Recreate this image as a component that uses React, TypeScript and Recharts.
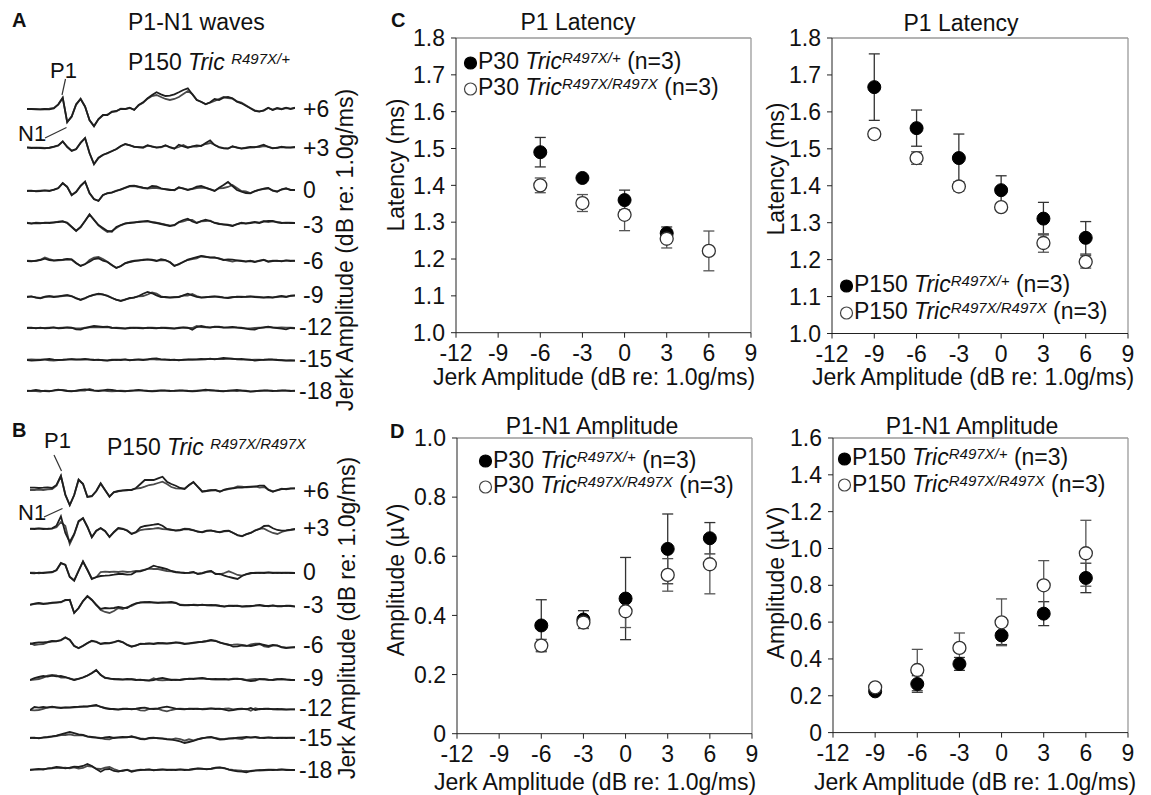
import React from 'react';
import { LineChart, Line, XAxis, YAxis, ScatterChart, Scatter, ErrorBar, ReferenceLine } from 'recharts';

const FONT = '"Liberation Sans", Arial, Helvetica, sans-serif';

// ---------- Waveform traces (amplitude samples, 61 per trace, two overlaid recordings) ----------
// Panel A: P150 Tric R497X/+
const A_P6_1 = [0,0,-0.3,-0.3,0,-0.3,0.7,4.7,11.3,-13,-7.7,4.7,10,2.3,-11,-17.3,-10,-6,-6,-2.7,-2,0,0,1.3,-1,4,6.7,10.7,14,16.7,14.7,13,13.3,14.7,16.7,19,20.7,14.7,9,7.3,4.7,6.7,10,9,11.3,12,10.7,7.3,5.7,3.3,0.7,-2,-2.7,-1.3,1.3,-1,0.7,-0.3,1.3,0,1.3];
const A_P6_2 = [0,0,0,-0.3,0,0.3,1,4.3,11,-13.3,-7.3,4.3,10.3,2.7,-11.3,-17,-10.3,-6.3,-5.7,-3,-2.3,0.3,0,1,-0.7,3.7,6.3,10.3,13,14,12,10,9,10,12,15,18,15,9.3,7,5,6.3,8,10,12,11,10.3,7.7,6.5,3.7,1,-1.3,-2.3,-1.7,1,-0.7,1,0,1,0.3,1];
const A_P3_1 = [0.7,0,0.3,0,-0.3,0.3,1.3,2.7,6.7,1,-2.7,-1,5,10,-5,-16,-10,-7,-5,-3.3,-1,2,4,2.7,1.3,0.7,0.7,2.7,1.3,0.3,1,2.7,0.7,-0.7,3.3,1.7,0.3,1.7,2.7,2,5,7.7,3,1,-0.3,-0.7,1.7,0.3,-0.7,0,1,0.7,2,3.3,1,-0.3,0.3,1,0.7,0.3,1];
const A_P3_2 = [0.3,0.3,0,0.3,0,0,1,2.3,6.3,1.3,-3,-1.3,5.3,9.7,-5.3,-16.3,-9.7,-6.7,-5.3,-3,-1.3,1.7,3.7,3,1,1,0.3,2.3,1.7,0.7,0.7,2.3,1,-0.3,1,3,0.7,1.3,1.5,2.3,4,5,3.3,0.7,0,-0.3,1.3,0.7,-0.3,0.3,0.7,1,1,2,1.3,0,0,1.3,0.3,0.7,0.7];
const A_0_1 = [0,0.3,-0.3,0,0.7,0,1.3,3,8,4,-4,-1,5,9.5,-2,-8,-10,-4,-2.3,-1.7,0,1.7,3.3,5,5.3,4.3,3.3,2.7,5,4.7,2.7,1.7,1,1,3.7,2.3,1,2.3,4.3,5,3.3,1.7,0,3.3,6,9,5,1,-0.7,-2,-2.3,0,1,2.3,3,0.3,-0.7,1.7,2.7,1,1];
const A_0_2 = [0.3,0,0,0.3,0.3,0.3,1,2.7,7.7,4.3,-4.3,-0.7,5.3,9.3,-2.3,-8.3,-9.7,-4.3,-2,-1.3,0.3,1.3,3,4.7,5,4,3,2.3,3,3,2.3,2,1.3,0.7,3.3,2.7,1.3,2,3,3.5,3,2,0.3,2.7,3,4,6,3,0,-0.5,-2,-0.3,1.3,2,2.7,0.7,-0.3,1.3,2.3,1.3,1];
const A_M3_1 = [0,-0.7,0,-0.3,0.3,0,0.7,1,1.7,0,-4,-8,-4,2,8.7,3,-2,-5,-8,-8.7,-4,-2,-0.3,0,0.7,1,1.7,2,0.7,0,-1,-2,-3,-2,1,3,4.3,1.5,0,2,3.3,2,0,-1,-1.3,-2,-3,-1,0,-0.7,0,1,0,1.3,2,2,0.7,0,0.3,0,0];
const A_M3_2 = [0.3,-0.3,0.3,0,0,0.3,0.3,1.3,1.3,0.3,-3.7,-7.7,-4.3,2.3,8.3,3.3,-2.3,-6,-9,-8,-5,-2.3,-0.7,0.3,0.3,1.3,1.3,1.7,1,0.3,-0.7,-1.7,-2.7,-2.3,0.7,1.5,3,3,0.3,1.7,2,2.3,0.3,-0.7,-1.7,-1.7,-2.7,-1.3,0.3,-0.3,0.3,0.7,0.3,2,1,1.7,1,0.3,0,0.3,0];
const A_M6_1 = [0,-0.3,0.3,1,2.3,1,0.3,1,1.3,2,1.7,-2,-5,-3,-0.7,2,2.7,0.3,-1,-4,-7,-5,-2,-1,0,0.7,1,1.7,1,0,1.7,1,-1.3,-5,-3,-1,1.3,2.7,4,5,4.3,3.3,3.7,2.3,1,1.7,1.3,0.7,0,-0.7,0,-1,0.3,1,-0.7,0,0.3,-0.3,0.7,0,0.3];
const A_M6_2 = [0.3,0,0,1.3,3.5,2,0.7,0.7,1,1.7,1.3,-2.3,-4.7,-3.3,1,3.5,4,2,-0.7,-4.3,-6.7,-5.3,-2.3,-0.7,0.3,0.3,1.3,1.3,1.3,0.3,0.7,0.7,-1,-4.7,-3.3,-0.7,1,2,2.7,4.7,4,3.7,3.3,2.7,1.3,0.3,-0.7,0.3,0.3,-0.3,0.3,-0.7,0,1.3,-0.3,0.3,0,0,0.3,0.3,0];
const A_M9_1 = [0,0.7,-0.7,-1.3,0.3,0.7,0,0.7,1.3,1.7,0.7,-1.3,-2.7,-1,1,2,3.3,2.7,1,-1,-2.7,-4,-2.7,-1,-0.7,1,3.3,5,3.7,1.7,0,0,-0.7,-0.3,0,1.7,3.3,1.7,0,-0.7,-0.3,0.3,0.7,0,-0.7,-1,-0.3,0.3,0,0.3,0.7,0,-0.3,-0.7,0,-0.7,0.3,1,0,1.3,1.7];
const A_M9_2 = [0.3,0.3,-0.3,-1,0,1,0.3,0.3,1,2,1,-1,-3,-1.3,0.7,2.3,3,2.3,1.3,-0.7,-3,-3.7,-2.3,-1.3,-0.3,0.7,1,2.5,4.5,3.5,0.7,-0.3,-0.3,0,0.3,1.3,1.5,3,1,-0.3,0,0,0.3,0.3,-0.3,-0.7,0,0,0.3,0,0.3,0.3,0,-0.3,-0.3,-0.3,0,0.7,0.3,1,1.3];
const A_M12_1 = [0,0.3,-0.3,0.3,-0.3,0,0.7,-0.3,0,0.7,0.3,-1.3,-1.7,0,1,2,1.7,1,1.3,0.3,0,-0.3,-0.7,0,0.3,0,-0.3,0.3,0,-0.3,0.3,0,-0.3,-0.7,0,0.7,0.3,-1.7,1,2,1,0.3,1.3,1,0.3,0.7,1,0.3,0,-0.7,-1.3,-1.7,0,0.7,1.3,0.3,0,-0.7,-1.3,0,-0.3];
const A_M12_2 = [0.3,0,0,0,0,0.3,0.3,0,0.3,0.3,0,-0.3,-0.3,0.3,0.7,0.7,1,0.7,1,0,0.3,0,-0.3,0.3,0,0.3,0,0,0.3,0,0,0.3,0,-0.3,0.3,0.3,0,0,2,1,0.7,0.7,1,1.3,0.7,0.3,0.7,0.7,0.3,-0.3,-0.3,0,0.3,0.3,1,0.7,0.3,0.7,0.3,0.3,0];
const A_M15_1 = [0,-0.7,-0.3,0,0.7,1,0.3,0,0.3,0.7,0.7,0.3,0.7,1,0.3,0,0.3,-0.3,-0.7,0,0.3,0,0.7,-0.3,0.3,0.3,0,0.7,1.3,1.7,0.7,0.3,0,0.3,-0.3,0.3,0.7,0.3,0.7,1,0.7,1.3,0.7,1.3,2,1.7,1.3,0.7,1,0.3,0.3,-0.7,0,0.3,0.7,0.3,0,-0.3,-0.7,-0.3,-0.7];
const A_M15_2 = [0.3,0.7,0.3,0.3,0.3,-0.3,-0.7,0,0,0.3,1,0.7,0.3,0.7,0.7,0.3,0,0,-0.3,0.3,0,0.3,0.3,0,0,0.7,0.3,0.3,1,0.3,0.3,0.7,0.3,0,0,0,0.3,0.7,0.3,0.7,1,1,1,1,1,1.3,1,1,0.7,0.7,0,0.3,0.3,0,0.3,0.7,0.3,0,-0.3,-0.3,-0.3];
const A_M18_1 = [0,0.3,1,0.3,0,-0.3,0.7,1.3,0.7,0,-0.3,0.3,1,1.7,1,0.3,0,0.7,1.3,1,0.3,0,-0.3,0.3,0.7,1,0.3,0,-0.3,0,0.7,0.3,0,0.3,0.7,0.3,0,-0.3,0,0.7,1.3,0.7,0.3,0,-0.3,0.3,0.7,1,0.3,0,-0.7,-0.3,0.3,0.7,0.3,0,0.3,0.7,0.3,0,0.3];
const A_M18_2 = [0.3,0,0,-0.7,0.3,0,0.3,1,1,0.3,0,0,0.7,0.3,2,0.7,0.3,0.3,0,-0.3,0,0.3,0,0,0.3,0.7,0.7,0.3,0,0.3,0.3,0.7,0.3,0,0.3,0.7,0.3,0,0.3,0.3,0.3,1,0.7,0.3,0,0,0.3,0,0.7,0.3,-0.3,0,0,0.3,0.7,0.3,0,0.3,0.7,0.3,0];

// Panel B: P150 Tric R497X/R497X
const B_P6_1 = [1.3,1.3,1,1.3,1.7,1,4,13.3,-6,-16,-6,9.5,5,-8,-7,-2,5.7,-1,-7.7,-3,-2,-1.3,-1,-1,1,5,9,9,9,10.7,12.3,7.3,5,3.3,1,0,4,7,2,-2.7,-2,-1.3,-1,-2.7,-0.7,0.3,0.7,1.3,1.3,2,2.3,2.3,3.3,3.3,-1,-2.7,-1,0,0,0.7,0.7];
const B_P6_2 = [-1,-1,-0.7,-1,-0.3,0,3.3,12.7,-5.3,-16.3,-6.3,9,5.3,-7.7,-7.3,-2.3,5.3,-1.3,-7.3,-3.3,-2.3,-1.7,-1.3,-0.7,0.3,1,2.3,4,4.7,6,7.3,5,2,0.7,0.3,0.3,3.7,6.7,2.3,-2.3,-1.7,-1,-1.3,-2.3,-1,0,1,2.7,2.3,1.7,2,2.7,1.3,2,-0.7,-2.3,-1.3,0.3,-0.3,0.3,0.7];
const B_P3_1 = [0.3,0,0.7,0,0.3,0.7,3.3,12.7,-4,-13,-5,8,11,2,-8.3,-1.7,1,-2,-8,-3,1,0,-1.7,-5,-3,1.7,3,3.7,4.3,5,3.3,0,-0.7,-1.7,-1,0,-0.3,-1.3,-2.5,-3.3,-1.7,-1.7,-2.3,-3.3,-2,-1.7,-4,-6,-7.3,-5,-4,-1.5,0,3,3.3,0.7,-1,-1.7,-1.3,-0.7,0];
const B_P3_2 = [0,0.3,0.3,0.3,0,0.3,1.7,7,3,-15,-5.7,7.3,10.7,2.3,-8,-2,0.7,-2.3,-7.7,-3.3,0.7,0.3,-1.3,-4.7,-3.3,-1,-0.3,0,0.3,1,0,-0.3,-1,-1.3,-1.3,0.3,0,-1,-2.7,-3,-2,-1.3,-2.7,-3,-2.3,-2,-3.7,-6.3,-7,-5.3,-3.7,-1.3,0.3,0.3,-2,-4,-5,-3,-1.7,-1,-0.3];
const B_0_1 = [0,-0.3,0.3,0,0.7,1,3,10,8,-4,-7.7,2,11.7,3,-6,-4,-3,-2.7,-2.3,-1.7,-1,-1,-1.7,-1.3,1.3,1.7,3,5,7.3,6,5,4,2,1,0.3,0,0.3,1,-1,-0.3,1.3,2,-1,-1,-2.7,-4,-5,-6,-3,-1,0,0,0.3,0,0.7,0,0.3,0,0.3,0,0];
const B_0_2 = [0.3,0.3,-0.3,0.3,0.3,0.7,2.7,9.7,8.3,-3.7,-7.3,2.3,11.3,3.3,-5.7,-4.3,1,1.3,1,1.3,1,1.7,1,1.3,2,2.3,3.3,4.3,4,4,3,2,1.7,0.7,0.7,0.3,0,0.7,-0.7,0,1,1.7,-0.7,-1.3,0,1.7,0,-2,-2.7,-1.3,-0.3,0.3,0,0.3,0.3,0.3,0,0.3,0,0.3,0];
const B_M3_1 = [0,1.3,2,1,1.7,2.3,2.3,3,5,5,-8,-3,4,9,5,0,-4,-3,-3.3,-3,-2,-2.7,-3,0,1.7,2.7,2.7,3,2.3,2.3,2.3,2.7,3,2,0,-0.3,0,0,-0.3,0.3,-0.3,0,-0.3,-1,-1.7,-0.7,-1,-0.7,-1.7,-1.3,-1,-0.7,0,-1,-1,-0.3,-1.3,-1.3,-0.7,-1,-1.7];
const B_M3_2 = [0.3,1,1.7,1.3,1.3,2,2.7,2.7,4.7,5.3,-7.7,-3.3,3.7,8.7,5.3,0.3,-5,-7,-8,-6,-3,-4,-2,-1,1.3,2.3,3,2.7,2.7,2,2.7,2.3,2.7,2.3,0.3,0,-0.3,0.3,0,0,0,-0.3,0,-0.7,-1.3,-1,-0.7,-1,-1.3,-1,-1.3,-0.3,-0.3,-0.7,-1.3,-0.7,-1,-1,-1,-0.7,-1.3];
const B_M6_1 = [0,1,1.7,1.7,2,3,2.7,4,6.7,4,-2,-4,-1.7,1,3.3,2,0,1,0.7,2,3.3,1.7,-1,-2.7,-1.3,0,0.3,0.7,0,1,0.7,0.3,1,1.7,1,0,0.7,1.3,1.7,2.3,3,4,3,1.3,0.3,-0.7,-2.7,-2.3,-1.3,-1.7,-2,-1,0,-1,-2,-1,-1.7,-3.3,-4,-3.3,-3.3];
const B_M6_2 = [1,-1,-0.3,0,1.7,2.7,3,3.7,6.3,4.3,-1.7,-4.3,-2,0.7,3,2.3,0.3,0.7,1,1.7,3,2,-0.7,-2.3,-1.7,0.3,0,0.3,0.3,0.7,1,0.7,0.7,1.3,1.3,0.3,0.3,1,2,2,2.7,3.7,3.3,1.7,0,-1,-0.7,-0.3,-1,-2,-0.3,0.3,0.3,-2.3,-3,-1.3,-1.3,-3,-3.7,-3.7,-3];
const B_M9_1 = [-1,1,2,3,2.3,3.3,2.7,3,2,0.3,-1,0,1.5,3.5,6,9,4,1.3,0.3,0,-0.3,-0.7,0,-0.3,-1,-0.7,-1.3,-1.7,-1,0.3,1,0,-1,-0.7,-1,-0.3,0.3,0,0.7,1,0.3,-0.3,0,-0.3,0,-0.7,0,0.3,-0.3,-1.3,-2,-1.7,0,-0.3,-0.7,-1,-0.3,0,-0.7,-1,-1];
const B_M9_2 = [-1,-0.7,0,1.3,3.3,4,3.7,1.3,1.7,0.7,-0.7,0.3,1.7,3.3,5.7,8.7,4.3,1,0.7,-0.3,0,-0.3,-0.3,0,-0.7,-1,-1,-1.3,0.7,-1,-1.3,-1,-0.7,-1,-0.7,0,0,0.3,0.3,0.7,0,0,-0.3,0,-0.3,-0.3,0.3,0,0,-1,-0.3,0,-0.3,0,-1,-0.7,0,-0.3,-0.3,-0.7,-1];
const B_M12_1 = [-1,2,1.3,2,1.3,2.3,1.7,1,1.7,1.3,2,2.3,2.7,2.3,3.3,4,2,1,0,0,-0.7,0,0.3,-0.3,0.3,1,1.3,0.3,0,0.7,1.7,2.3,1.3,0.3,0,-0.3,0.3,0,0.3,-0.3,0,0.7,0,0.3,-0.7,-1.7,-1,0,0.3,-0.3,1,-1,0,0,0.3,-0.3,0,-0.3,-0.7,-0.3,-0.3];
const B_M12_2 = [-1,-1.3,-1,0,1.7,2,1.3,1.3,1.3,1.7,1.7,2,2.3,2.7,3,3.3,2.3,0.7,0.3,-0.3,-0.3,0.3,0,0,0,-1.3,-1.7,0,0.3,0,-1.3,-2.3,-1,0,0.3,0,0,0.3,0,0,0.3,0.3,0.3,0,0.3,0.7,-0.3,-0.3,0,0,-1.7,0.7,-0.3,0.3,0,0,-0.3,0,-0.3,-0.3,-0.3];
const B_M15_1 = [0,0.3,-0.3,0.7,1,1.7,2.3,3.7,5,6,5,3.7,3,1.7,1,0.3,-0.3,0.7,1,0,0.7,1,0.7,1.7,0.3,-1,-1.3,0,0.3,-0.3,-0.7,-1.3,-1.7,-2.3,-3.3,-5,-4,-3,-1.3,-0.3,0.7,1,-0.3,-1.7,-1.3,-0.7,-0.3,0.3,0.7,1,0.3,1,0.3,0,0.7,0.3,0,0.3,0,0.3,0.3];
const B_M15_2 = [0.3,0,0,0.3,0.7,1.3,2,3,3,3.7,2.7,3,2.7,1.3,0.7,0.7,0,-1,-1.3,0.3,0.3,0.7,1,1,0.7,-0.3,-1,-0.3,0,0,-0.3,-1,-1.3,-0.3,-1,-2.7,-1.3,-2.3,-1,0,0.3,0.7,0,-1,-1,-0.3,0,-0.7,-1,0.7,0.7,0.7,0,0.3,0.3,0,0.3,0,0.3,0,0];
const B_M18_1 = [0,0.7,1,0.3,1.7,2,3,2.7,1.7,2.3,3.3,3,4,6,4,1,-1.7,0.7,1,-1,-1.7,-0.3,0,-1.7,-0.7,0,0.3,0.7,-0.3,0.3,0.7,0,0.3,0,0.7,0,0.3,1,1.7,1.3,0.7,1.3,2.3,2.7,2,0.3,-0.7,-1.3,-1.7,-2.3,-1,-0.3,-0.3,0,0.3,0,0.3,0.7,0,0,0];
const B_M18_2 = [0.3,0.3,0.7,1,1.3,1.7,2.3,2,2.3,1.7,2.7,1.3,2,4,3.5,1.3,1,2.3,3,1,-0.7,-1,0.3,-1,-0.3,0.3,0,0.3,0,0,0.3,0.3,0,0.3,0.3,0.3,0,0.7,1.3,1,1,1,2,2.3,1.7,0.7,0,-0.3,-0.7,-1,-1.3,-0.7,0,-0.3,0,0.3,0,0.3,0.3,0,0];

const LEVEL_LABELS = ['+6', '+3', '0', '-3', '-6', '-9', '-12', '-15', '-18'];
const A_TRACES = [[A_P6_1, A_P6_2], [A_P3_1, A_P3_2], [A_0_1, A_0_2], [A_M3_1, A_M3_2], [A_M6_1, A_M6_2], [A_M9_1, A_M9_2], [A_M12_1, A_M12_2], [A_M15_1, A_M15_2], [A_M18_1, A_M18_2]];
const B_TRACES = [[B_P6_1, B_P6_2], [B_P3_1, B_P3_2], [B_0_1, B_0_2], [B_M3_1, B_M3_2], [B_M6_1, B_M6_2], [B_M9_1, B_M9_2], [B_M12_1, B_M12_2], [B_M15_1, B_M15_2], [B_M18_1, B_M18_2]];

// ---------- Scatter data ----------
const X_TICKS = [-12, -9, -6, -3, 0, 3, 6, 9];
const LAT_TICKS = [1.0, 1.1, 1.2, 1.3, 1.4, 1.5, 1.6, 1.7, 1.8];
const AMP30_TICKS = [0, 0.2, 0.4, 0.6, 0.8, 1.0];
const AMP150_TICKS = [0, 0.2, 0.4, 0.6, 0.8, 1.0, 1.2, 1.4, 1.6];

// P30 latency
const LAT30_HET_DB = [-6, -3, 0, 3];
const LAT30_HET = [1.49, 1.42, 1.36, 1.27];
const LAT30_HET_SE = [0.04, 0.005, 0.027, 0.017];
const LAT30_HOM_DB = [-6, -3, 0, 3, 6];
const LAT30_HOM = [1.40, 1.352, 1.32, 1.255, 1.222];
const LAT30_HOM_SE = [0.02, 0.023, 0.043, 0.025, 0.054];
// P150 latency
const LAT150_DB = [-9, -6, -3, 0, 3, 6];
const LAT150_HET = [1.667, 1.556, 1.475, 1.388, 1.311, 1.259];
const LAT150_HET_SE = [0.09, 0.049, 0.065, 0.039, 0.044, 0.044];
const LAT150_HOM = [1.54, 1.475, 1.398, 1.342, 1.245, 1.194];
const LAT150_HOM_SE = [0.005, 0.017, 0.012, 0.007, 0.025, 0.017];
// P30 amplitude
const AMP30_DB = [-6, -3, 0, 3, 6];
const AMP30_HET = [0.366, 0.386, 0.457, 0.625, 0.661];
const AMP30_HET_SE = [0.087, 0.03, 0.139, 0.118, 0.053];
const AMP30_HOM = [0.298, 0.376, 0.414, 0.537, 0.573];
const AMP30_HOM_SE = [0.021, 0.02, 0.055, 0.055, 0.1];
// P150 amplitude
const AMP150_DB = [-9, -6, -3, 0, 3, 6];
const AMP150_HET = [0.224, 0.264, 0.373, 0.528, 0.646, 0.84];
const AMP150_HET_SE = [0.008, 0.045, 0.035, 0.05, 0.065, 0.08];
const AMP150_HOM = [0.246, 0.34, 0.46, 0.599, 0.80, 0.974];
const AMP150_HOM_SE = [0.008, 0.112, 0.081, 0.127, 0.134, 0.179];

const pts = (xs: number[], ys: number[], es: number[]) => xs.map((x, i) => ({ x, y: ys[i], e: es[i] }));

// ---------- helpers ----------
const T = ({ x, cy, fs = 23, center = false, bold = false, italic = false, children }: any) => (
  <div
    style={{
      position: 'absolute',
      left: x,
      top: cy - 0.4885 * fs,
      fontSize: fs,
      lineHeight: `${fs}px`,
      whiteSpace: 'nowrap',
      fontWeight: bold ? 700 : 400,
      fontStyle: italic ? 'italic' : 'normal',
      transform: center ? 'translateX(-50%)' : undefined,
    }}
  >
    {children}
  </div>
);

const VT = ({ cx, cy, fs = 23, children }: any) => (
  <div
    style={{
      position: 'absolute',
      left: cx,
      top: cy,
      fontSize: fs,
      lineHeight: `${fs}px`,
      whiteSpace: 'nowrap',
      transform: 'translate(-50%, -50%) rotate(-90deg)',
    }}
  >
    {children}
  </div>
);

const Sup = ({ children, size = 15 }: any) => (
  <span style={{ fontSize: size, fontStyle: 'italic', position: 'relative', top: -6 }}>{children}</span>
);

const Geno = ({ age, sup }: any) => (
  <>
    {age} <i>Tric</i>
    <Sup>{sup}</Sup> (n=3)
  </>
);

const LegendRow = ({ x, cy, filled, children }: any) => (
  <div style={{ position: 'absolute', left: x - 8, top: cy - 11.2, height: 23, display: 'flex', alignItems: 'center', whiteSpace: 'nowrap', fontSize: 23, lineHeight: '23px' }}>
    <svg width={15} height={16}>
      <circle cx={7.5} cy={8} r={6} fill={filled ? '#000' : '#fff'} stroke={filled ? '#000' : '#444'} strokeWidth={1.2} />
    </svg>
    <span>{children}</span>
  </div>
);

const WaveRow = ({ left, base, width, a, b }: any) => {
  const data = a.map((v: number, i: number) => ({ t: i, a: v, b: b[i] }));
  return (
    <div style={{ position: 'absolute', left, top: base - 30 }}>
      <LineChart width={width} height={60} data={data} margin={{ top: 0, right: 0, bottom: 0, left: 0 }}>
        <XAxis type="number" dataKey="t" domain={[0, 60]} hide />
        <YAxis type="number" domain={[-30, 30]} hide allowDataOverflow />
        <Line dataKey="b" type="linear" stroke="#4a4a4a" strokeWidth={1.8} dot={false} isAnimationActive={false} />
        <Line dataKey="a" type="linear" stroke="#1e1e1e" strokeWidth={1.8} dot={false} isAnimationActive={false} />
      </LineChart>
    </div>
  );
};

const fmt = (v: number) => (v === 0 ? '0' : v.toFixed(1));

const FilledDot = (p: any) => <circle cx={p.cx} cy={p.cy} r={6.5} fill="#000" stroke="#000" strokeWidth={1} />;
const OpenDot = (p: any) => <circle cx={p.cx} cy={p.cy} r={6.5} fill="#fff" stroke="#333" strokeWidth={1.3} />;

const MT = 22;

// plotLeft / plotTop are the pixel positions of the plotting area's top-left corner
const ScatterPanel = ({ plotLeft, plotTop, pw, ph, yDomain, yTicks, het, hom }: any) => {
  const W = 70 + pw + 10;
  const H = MT + ph + 60;
  return (
    <div style={{ position: 'absolute', left: plotLeft - 70, top: plotTop - MT }}>
      <ScatterChart width={W} height={H} margin={{ top: MT, right: 10, bottom: 0, left: 0 }}>
        <XAxis
          type="number"
          dataKey="x"
          domain={[-12, 9]}
          ticks={X_TICKS}
          interval={0}
          allowDataOverflow
          height={60}
          tickSize={5}
          tickMargin={7}
          stroke="#222"
          tick={{ fontSize: 23, fill: '#111' }}
        />
        <YAxis
          type="number"
          dataKey="y"
          domain={yDomain}
          ticks={yTicks}
          interval={0}
          allowDataOverflow
          width={70}
          tickSize={5}
          tickMargin={6}
          stroke="#222"
          tick={{ fontSize: 23, fill: '#111' }}
          tickFormatter={fmt}
        />
        <ReferenceLine y={yDomain[1]} stroke="#9a9a9a" strokeWidth={1.3} />
        <ReferenceLine x={9} stroke="#9a9a9a" strokeWidth={1.3} />
        <Scatter data={het} shape={FilledDot} isAnimationActive={false}>
          <ErrorBar dataKey="e" direction="y" width={5.5} stroke="#333" strokeWidth={1.3} isAnimationActive={false} />
        </Scatter>
        <Scatter data={hom} shape={OpenDot} isAnimationActive={false}>
          <ErrorBar dataKey="e" direction="y" width={5.5} stroke="#555" strokeWidth={1.3} isAnimationActive={false} />
        </Scatter>
      </ScatterChart>
    </div>
  );
};

const A_BASES = [109, 148, 191, 223, 261, 296.5, 327.5, 359.5, 391];
const A_LABEL_CY = [109, 148, 190, 225, 261.5, 295.5, 327, 359, 391];
const B_BASES = [489, 528.5, 572.5, 605, 643.5, 678.5, 708.5, 738, 770];
const B_LABEL_CY = [491, 528, 572.5, 605, 645, 678.5, 708.5, 738.5, 770];

export default function App() {
  return (
    <div
      style={{
        position: 'absolute',
        left: 0,
        top: 0,
        width: 1151,
        height: 795,
        background: '#fff',
        fontFamily: FONT,
        color: '#111',
        overflow: 'hidden',
      }}
    >
      {/* Panel A */}
      <T x={12} cy={20} fs={20} bold>A</T>
      <T x={128} cy={22.5}>P1-N1 waves</T>
      <T x={128} cy={62}>P150 <i>Tric</i> <Sup>R497X/+</Sup></T>
      <T x={50} cy={70.5} fs={22}>P1</T>
      <T x={18} cy={134} fs={22}>N1</T>
      {A_TRACES.map((tr, i) => (
        <WaveRow key={'a' + i} left={27} base={A_BASES[i]} width={268} a={tr[0]} b={tr[1]} />
      ))}
      {LEVEL_LABELS.map((l, i) => (
        <T key={'al' + i} x={l.length > 2 ? 299 : 303} cy={A_LABEL_CY[i]} fs={23}>{l}</T>
      ))}
      <VT cx={345} cy={250}>Jerk Amplitude (dB re: 1.0g/ms)</VT>

      {/* Panel B */}
      <T x={12} cy={430} fs={20} bold>B</T>
      <T x={107} cy={447}>P150 <i>Tric</i> <Sup>R497X/R497X</Sup></T>
      <T x={44} cy={441} fs={22}>P1</T>
      <T x={18} cy={513} fs={22}>N1</T>
      {B_TRACES.map((tr, i) => (
        <WaveRow key={'b' + i} left={30} base={B_BASES[i]} width={265} a={tr[0]} b={tr[1]} />
      ))}
      {LEVEL_LABELS.map((l, i) => (
        <T key={'bl' + i} x={l.length > 2 ? 299 : 303} cy={B_LABEL_CY[i]} fs={23}>{l}</T>
      ))}
      <VT cx={347} cy={618}>Jerk Amplitude (dB re: 1.0g/ms)</VT>

      {/* pointer lines */}
      <svg width={1151} height={795} style={{ position: 'absolute', left: 0, top: 0, pointerEvents: 'none' }}>
        <line x1={65.5} y1={79} x2={62} y2={95} stroke="#333" strokeWidth={1.2} />
        <line x1={45} y1={138} x2={66.5} y2={127.5} stroke="#333" strokeWidth={1.2} />
        <line x1={54} y1={455} x2={61.5} y2={471} stroke="#333" strokeWidth={1.2} />
        <line x1={44} y1={517} x2={62.5} y2={508.5} stroke="#333" strokeWidth={1.2} />
      </svg>

      {/* Panel C */}
      <T x={391} cy={20} fs={20} bold>C</T>
      <T x={578} cy={22.5} center>P1 Latency</T>
      <T x={961} cy={23} center>P1 Latency</T>
      <ScatterPanel plotLeft={456} plotTop={38.3} pw={295} ph={294.7} yDomain={[1.0, 1.8]} yTicks={LAT_TICKS}
        het={pts(LAT30_HET_DB, LAT30_HET, LAT30_HET_SE)} hom={pts(LAT30_HOM_DB, LAT30_HOM, LAT30_HOM_SE)} />
      <ScatterPanel plotLeft={832} plotTop={37.5} pw={296} ph={295.5} yDomain={[1.0, 1.8]} yTicks={LAT_TICKS}
        het={pts(LAT150_DB, LAT150_HET, LAT150_HET_SE)} hom={pts(LAT150_DB, LAT150_HOM, LAT150_HOM_SE)} />
      <VT cx={396} cy={165}>Latency (ms)</VT>
      <VT cx={776} cy={169}>Latency (ms)</VT>
      <T x={594} cy={377} center>Jerk Amplitude (dB re: 1.0g/ms)</T>
      <T x={973} cy={377} center>Jerk Amplitude (dB re: 1.0g/ms)</T>
      <LegendRow x={471} cy={62.5} filled><Geno age="P30" sup="R497X/+" /></LegendRow>
      <LegendRow x={471} cy={88.5}><Geno age="P30" sup="R497X/R497X" /></LegendRow>
      <LegendRow x={847} cy={285.5} filled><Geno age="P150" sup="R497X/+" /></LegendRow>
      <LegendRow x={847} cy={312.5}><Geno age="P150" sup="R497X/R497X" /></LegendRow>

      {/* Panel D */}
      <T x={390} cy={430.5} fs={20} bold>D</T>
      <T x={592} cy={426} center>P1-N1 Amplitude</T>
      <T x={972} cy={426} center>P1-N1 Amplitude</T>
      <ScatterPanel plotLeft={456.7} plotTop={438.3} pw={295} ph={295.7} yDomain={[0, 1.0]} yTicks={AMP30_TICKS}
        het={pts(AMP30_DB, AMP30_HET, AMP30_HET_SE)} hom={pts(AMP30_DB, AMP30_HOM, AMP30_HOM_SE)} />
      <ScatterPanel plotLeft={832.7} plotTop={437.7} pw={295} ph={294.6} yDomain={[0, 1.6]} yTicks={AMP150_TICKS}
        het={pts(AMP150_DB, AMP150_HET, AMP150_HET_SE)} hom={pts(AMP150_DB, AMP150_HOM, AMP150_HOM_SE)} />
      <VT cx={396} cy={580}>Amplitude (µV)</VT>
      <VT cx={776} cy={583}>Amplitude (µV)</VT>
      <T x={595} cy={782} center>Jerk Amplitude (dB re: 1.0g/ms)</T>
      <T x={975} cy={782} center>Jerk Amplitude (dB re: 1.0g/ms)</T>
      <LegendRow x={486} cy={461} filled><Geno age="P30" sup="R497X/+" /></LegendRow>
      <LegendRow x={486} cy={486.5}><Geno age="P30" sup="R497X/R497X" /></LegendRow>
      <LegendRow x={845} cy={458.5} filled><Geno age="P150" sup="R497X/+" /></LegendRow>
      <LegendRow x={845} cy={485}><Geno age="P150" sup="R497X/R497X" /></LegendRow>
    </div>
  );
}
